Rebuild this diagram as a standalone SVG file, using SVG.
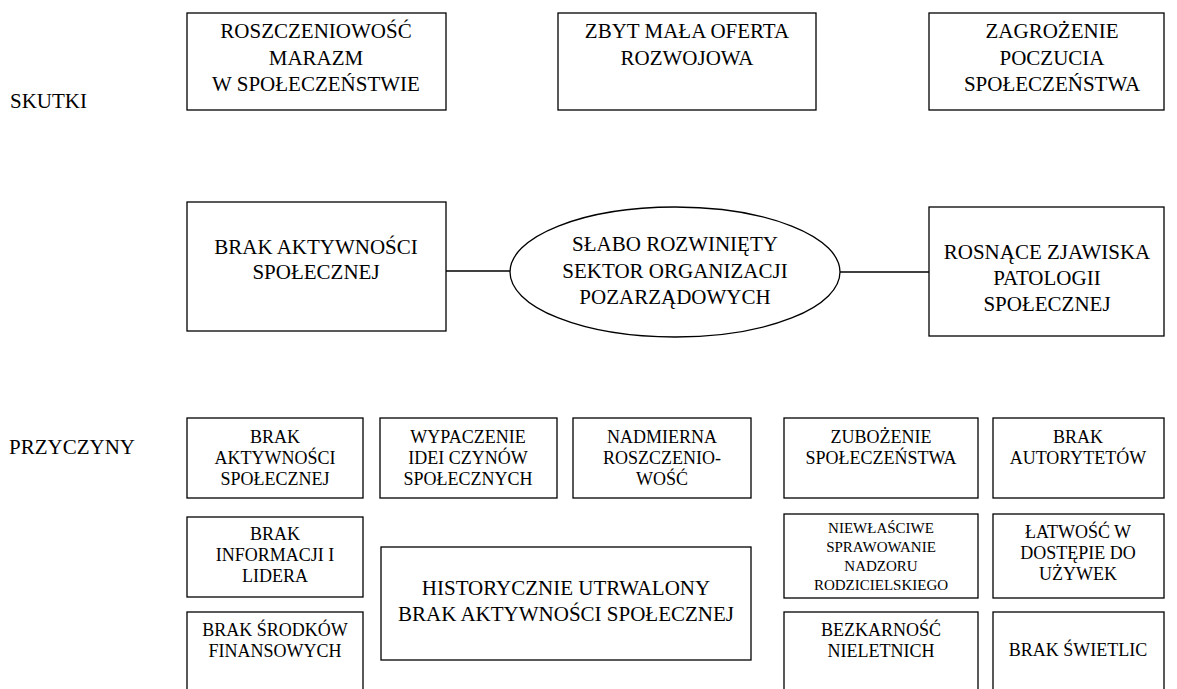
<svg xmlns="http://www.w3.org/2000/svg" width="1177" height="689" viewBox="0 0 1177 689">
<style>
  rect.b { fill: #fff; stroke: #000; stroke-width: 1.3; }
  ellipse.b { fill: #fff; stroke: #000; stroke-width: 1.3; }
  line.c { stroke: #000; stroke-width: 1.3; }
  text { font-family: 'Liberation Serif', 'Times New Roman', serif; fill: #000; text-anchor: middle; }
  .l { font-size: 21px; }
  .m { font-size: 18px; }
  .s { font-size: 15px; }
  .lab { text-anchor: start; font-size: 21px; }
</style>
<rect width="1177" height="689" fill="#fff"/>
<g id="labels">
  <text class="lab" x="10" y="108">SKUTKI</text>
  <text class="lab" x="9" y="454">PRZYCZYNY</text>
</g>
<g id="connectors">
  <line class="c" x1="446" y1="271" x2="510" y2="271"/>
  <line class="c" x1="840" y1="272" x2="929" y2="272"/>
</g>
<g id="skutek1">
  <rect class="b" x="187" y="13" width="259" height="97"/>
  <text class="l" x="316" y="38">ROSZCZENIOWOŚĆ</text>
  <text class="l" x="316" y="65">MARAZM</text>
  <text class="l" x="316" y="91">W SPOŁECZEŃSTWIE</text>
</g>
<g id="skutek2">
  <rect class="b" x="558" y="13" width="258" height="97"/>
  <text class="l" x="687" y="38">ZBYT MAŁA OFERTA</text>
  <text class="l" x="687" y="65">ROZWOJOWA</text>
</g>
<g id="skutek3">
  <rect class="b" x="929" y="13" width="235" height="97"/>
  <text class="l" x="1052" y="38">ZAGROŻENIE</text>
  <text class="l" x="1052" y="65">POCZUCIA</text>
  <text class="l" x="1052" y="91">SPOŁECZEŃSTWA</text>
</g>
<g id="brak-aktywnosci">
  <rect class="b" x="187" y="202" width="259" height="129"/>
  <text class="l" x="316" y="254">BRAK AKTYWNOŚCI</text>
  <text class="l" x="316" y="279">SPOŁECZNEJ</text>
</g>
<g id="problem">
  <ellipse class="b" cx="675" cy="272" rx="165" ry="65"/>
  <text class="l" x="675" y="251">SŁABO ROZWINIĘTY</text>
  <text class="l" x="675" y="278">SEKTOR ORGANIZACJI</text>
  <text class="l" x="675" y="304">POZARZĄDOWYCH</text>
</g>
<g id="patologie">
  <rect class="b" x="929" y="207" width="235" height="129"/>
  <text class="l" x="1047" y="259">ROSNĄCE ZJAWISKA</text>
  <text class="l" x="1047" y="285">PATOLOGII</text>
  <text class="l" x="1047" y="311">SPOŁECZNEJ</text>
</g>
<g id="p1">
  <rect class="b" x="187" y="418" width="176" height="80"/>
  <text class="m" x="275" y="443">BRAK</text>
  <text class="m" x="275" y="464">AKTYWNOŚCI</text>
  <text class="m" x="275" y="485">SPOŁECZNEJ</text>
</g>
<g id="p2">
  <rect class="b" x="380" y="418" width="177" height="80"/>
  <text class="m" x="468" y="443">WYPACZENIE</text>
  <text class="m" x="468" y="464">IDEI CZYNÓW</text>
  <text class="m" x="468" y="485">SPOŁECZNYCH</text>
</g>
<g id="p3">
  <rect class="b" x="573" y="418" width="178" height="80"/>
  <text class="m" x="662" y="443">NADMIERNA</text>
  <text class="m" x="662" y="464">ROSZCZENIO-</text>
  <text class="m" x="662" y="485">WOŚĆ</text>
</g>
<g id="p4">
  <rect class="b" x="784" y="418" width="194" height="80"/>
  <text class="m" x="881" y="443">ZUBOŻENIE</text>
  <text class="m" x="881" y="464">SPOŁECZEŃSTWA</text>
</g>
<g id="p5">
  <rect class="b" x="993" y="418" width="171" height="80"/>
  <text class="m" x="1078" y="443">BRAK</text>
  <text class="m" x="1078" y="464">AUTORYTETÓW</text>
</g>
<g id="p6">
  <rect class="b" x="187" y="517" width="176" height="80"/>
  <text class="m" x="275" y="540">BRAK</text>
  <text class="m" x="275" y="561">INFORMACJI I</text>
  <text class="m" x="275" y="582">LIDERA</text>
</g>
<g id="p7">
  <rect class="b" x="381" y="547" width="370" height="113"/>
  <text class="l" x="566" y="595">HISTORYCZNIE UTRWALONY</text>
  <text class="l" x="566" y="621">BRAK AKTYWNOŚCI SPOŁECZNEJ</text>
</g>
<g id="p8">
  <rect class="b" x="784" y="514" width="194" height="84"/>
  <text class="s" x="881" y="533">NIEWŁAŚCIWE</text>
  <text class="s" x="881" y="552">SPRAWOWANIE</text>
  <text class="s" x="881" y="571">NADZORU</text>
  <text class="s" x="881" y="590">RODZICIELSKIEGO</text>
</g>
<g id="p9">
  <rect class="b" x="993" y="514" width="171" height="84"/>
  <text class="m" x="1078" y="538">ŁATWOŚĆ W</text>
  <text class="m" x="1078" y="559">DOSTĘPIE DO</text>
  <text class="m" x="1078" y="580">UŻYWEK</text>
</g>
<g id="p10">
  <rect class="b" x="187" y="612" width="176" height="90"/>
  <text class="m" x="275" y="636">BRAK ŚRODKÓW</text>
  <text class="m" x="275" y="657">FINANSOWYCH</text>
</g>
<g id="p11">
  <rect class="b" x="784" y="612" width="194" height="90"/>
  <text class="m" x="881" y="636">BEZKARNOŚĆ</text>
  <text class="m" x="881" y="657">NIELETNICH</text>
</g>
<g id="p12">
  <rect class="b" x="993" y="612" width="171" height="90"/>
  <text class="m" x="1078" y="656">BRAK ŚWIETLIC</text>
</g>
</svg>
